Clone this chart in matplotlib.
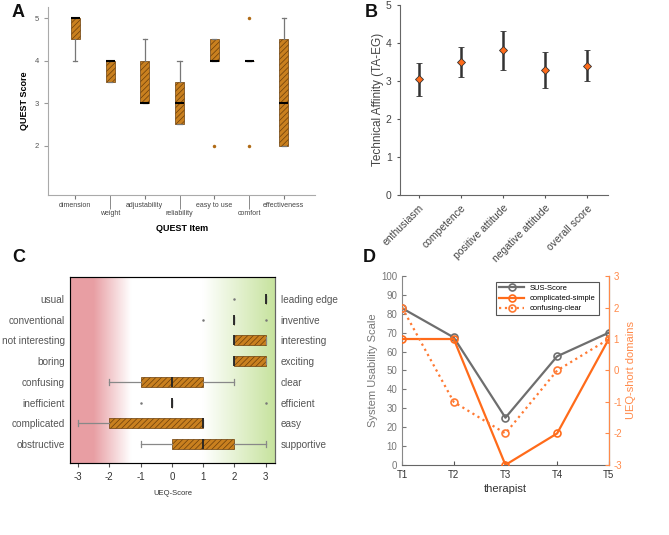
import matplotlib.pyplot as plt
import numpy as np

plt.rcParams['font.family'] = ['Liberation Sans', 'DejaVu Sans']
plt.rcParams['hatch.linewidth'] = 0.5
plt.rcParams['axes.unicode_minus'] = False

# A - QUEST
quest_items = ['dimension', 'weight', 'adjustability', 'reliability',
               'easy to use', 'comfort', 'effectiveness']
quest_med = [5, 4, 3, 3, 4, 4, 3]
quest_q1 = [4.5, 3.5, 3, 2.5, 4, 4, 2]
quest_q3 = [5, 4, 4, 3.5, 4.5, 4, 4.5]
quest_lo = [4, 3.5, 3, 2.5, 4, 4, 2]
quest_hi = [5, 4, 4.5, 4, 4.5, 4, 5]
quest_out = [[], [], [], [], [2], [2, 5], []]

# B - TA-EG
ta_items = ['enthusiasm', 'competence', 'positive attitude',
            'negative attitude', 'overall score']
ta_mean = [3.04, 3.50, 3.80, 3.29, 3.40]
ta_err = [0.44, 0.40, 0.52, 0.47, 0.40]

# C - UEQ
ueq_left = ['usual', 'conventional', 'not interesting', 'boring',
            'confusing', 'inefficient', 'complicated', 'obstructive']
ueq_right = ['leading edge', 'inventive', 'interesting', 'exciting',
             'clear', 'efficient', 'easy', 'supportive']
ueq_med = [3, 2, 2, 2, 0, 0, 1, 1]
ueq_q1 = [3, 2, 2, 2, -1, 0, -2, 0]
ueq_q3 = [3, 2, 3, 3, 1, 0, 1, 2]
ueq_lo = [3, 2, 2, 2, -2, 0, -3, -1]
ueq_hi = [3, 2, 3, 3, 2, 0, 1, 3]
ueq_out = [[2], [1, 3], [], [], [], [-1, 3], [], []]

# D - SUS / UEQ-short
therapists = ['T1', 'T2', 'T3', 'T4', 'T5']
sus = [83, 67.5, 25, 57.5, 70]
compl_simple = [1, 1, -3, -2, 1]
conf_clear = [2, -1, -2, 0, 1]

box_fc = '#C9801F'
box_ec = '#6B3E0A'
orange = '#FF6B1A'

fig = plt.figure(figsize=(6.69, 5.35), dpi=100)


def stats(med, q1, q3, lo, hi, out):
    return [dict(med=m, q1=a, q3=b, whislo=l, whishi=h, fliers=f)
            for m, a, b, l, h, f in zip(med, q1, q3, lo, hi, out)]


# ---------- A ----------
axA = fig.add_axes([0.072, 0.636, 0.399, 0.351])
pos = np.arange(len(quest_items))
axA.bxp(stats(quest_med, quest_q1, quest_q3, quest_lo, quest_hi, quest_out),
        positions=pos, widths=0.26, patch_artist=True, capwidths=0.12,
        boxprops=dict(facecolor=box_fc, edgecolor=box_ec, hatch='//////', lw=0.5),
        medianprops=dict(color='black', lw=1.5, zorder=5),
        whiskerprops=dict(color='#777777', lw=0.9),
        capprops=dict(color='#777777', lw=0.9),
        flierprops=dict(marker='o', ms=2.5, mfc='#B06A15', mec='none'))
axA.set_xlim(-0.78, 6.9)
axA.set_ylim(0.85, 5.26)
axA.set_yticks([2, 3, 4, 5])
axA.set_xticks(pos[::2])
axA.set_xticklabels(quest_items[::2])
axA.set_xticks(pos[1::2], minor=True)
axA.set_xticklabels(quest_items[1::2], minor=True)
axA.tick_params(axis='x', which='major', length=3, color='#777777', labelsize=5, labelcolor='#444444', pad=2)
axA.tick_params(axis='x', which='minor', length=10, color='#777777', labelsize=5, labelcolor='#444444', pad=1)
axA.tick_params(axis='y', length=3, color='#999999', labelsize=5.5, labelcolor='#555555')
for s in ['top', 'right']:
    axA.spines[s].set_visible(False)
for s in ['left', 'bottom']:
    axA.spines[s].set_color('#aaaaaa')
axA.set_ylabel('QUEST Score', fontsize=6.5, fontweight='bold', labelpad=4)
axA.set_xlabel('QUEST Item', fontsize=6.5, fontweight='bold', labelpad=5)

# ---------- B ----------
axB = fig.add_axes([0.598, 0.636, 0.311, 0.355])
xb = np.arange(1, len(ta_items) + 1)
axB.errorbar(xb, ta_mean, yerr=ta_err, fmt='D', color='#333333', mfc=orange,
             mec='#333333', mew=0.6, ms=4, capsize=2.5, elinewidth=1.8, capthick=1.8)
axB.set_xlim(0.55, 5.5)
axB.set_ylim(0, 5)
axB.set_xticks(xb)
axB.set_xticklabels(ta_items, rotation=45, ha='right', rotation_mode='anchor')
axB.tick_params(length=2.5, color='#555555', labelsize=7.5, labelcolor='#444444')
for s in ['top', 'right']:
    axB.spines[s].set_visible(False)
for s in ['left', 'bottom']:
    axB.spines[s].set_color('#666666')
axB.set_ylabel('Technical Affinity (TA-EG)', fontsize=8.5, color='#444444', labelpad=1)

# ---------- C ----------
axC = fig.add_axes([0.105, 0.135, 0.306, 0.347])
xs = np.linspace(-3.25, 3.3, 600)
red_w = np.clip((-1.3 - xs) / 1.2, 0, 1)
green_w = np.clip((xs - 1.0) / 2.3, 0, 1)
red = np.array([0.91, 0.62, 0.64])
green = np.array([0.78, 0.89, 0.62])
col = (1 - red_w[:, None] - green_w[:, None]) + red_w[:, None] * red + green_w[:, None] * green
axC.imshow(col[None, :, :], extent=[-3.25, 3.3, 0.1, 9.05], aspect='auto', zorder=0)
yc = np.arange(len(ueq_left), 0, -1)
axC.bxp(stats(ueq_med, ueq_q1, ueq_q3, ueq_lo, ueq_hi, ueq_out),
        positions=yc, widths=0.48, orientation='horizontal', patch_artist=True,
        capwidths=0.3,
        boxprops=dict(facecolor=box_fc, edgecolor=box_ec, hatch='//////', lw=0.5),
        medianprops=dict(color='#222222', lw=1.3, zorder=5),
        whiskerprops=dict(color='#888888', lw=0.9),
        capprops=dict(color='#888888', lw=0.9),
        flierprops=dict(marker='o', ms=1.8, mfc='#777777', mec='none'))
axC.set_xlim(-3.25, 3.3)
axC.set_ylim(0.1, 9.05)
axC.set_xticks([-3, -2, -1, 0, 1, 2, 3])
axC.set_yticks(yc)
axC.set_yticklabels(ueq_left)
axC.tick_params(axis='y', length=0, labelsize=7.2, labelcolor='#555555', pad=4)
axC.tick_params(axis='x', length=3, color='#555555', labelsize=7, labelcolor='#333333')
for s in axC.spines.values():
    s.set_color('#666666')
axC.set_xlabel('UEQ-Score', fontsize=5.5, color='#333333', labelpad=6)
axC2 = axC.twinx()
axC2.set_ylim(axC.get_ylim())
axC2.set_yticks(yc)
axC2.set_yticklabels(ueq_right)
axC2.tick_params(axis='y', length=0, labelsize=7.2, labelcolor='#555555', pad=4)
axC2.spines['right'].set_color('#666666')

# ---------- D ----------
axD = fig.add_axes([0.601, 0.131, 0.309, 0.353])
xd = np.arange(1, len(therapists) + 1)
l1, = axD.plot(xd, sus, '-o', color='#6E6E6E', lw=1.6, ms=5, mfc='none', mew=1.2,
               label='SUS-Score')
axD.set_xlim(1, 5)
axD.set_ylim(0, 100)
axD.set_yticks(range(0, 101, 10))
axD.set_xticks(xd)
axD.set_xticklabels(therapists)
axD.tick_params(axis='y', direction='in', length=3, color='#777777', labelsize=7, labelcolor='#777777')
axD.tick_params(axis='x', direction='in', length=3, color='#555555', labelsize=7, labelcolor='#333333')
axD.set_xlabel('therapist', fontsize=8, color='#333333', labelpad=3)
axD.set_ylabel('System Usability Scale', fontsize=8, color='#777777', labelpad=2)
axD2 = axD.twinx()
l2, = axD2.plot(xd, compl_simple, '-o', color=orange, lw=1.6, ms=5, mfc='none', mew=1.2,
                label='complicated-simple')
l3, = axD2.plot(xd, conf_clear, ':o', color='#FF7A33', lw=1.6, ms=5, mfc='none', mew=1.2,
                label='confusing-clear')
axD2.set_ylim(-3, 3)
axD2.set_yticks(range(-3, 4))
axD2.tick_params(axis='y', direction='in', length=3, color='#FF8A4A', labelsize=7, labelcolor='#FF8A4A')
axD2.set_ylabel('UEQ-short domains', fontsize=8, color='#FF8A4A', labelpad=3)
for ax in (axD, axD2):
    ax.spines['top'].set_visible(False)
axD.spines['left'].set_color('#888888')
axD.spines['bottom'].set_color('#666666')
axD2.spines['left'].set_visible(False)
axD2.spines['bottom'].set_visible(False)
axD2.spines['right'].set_color('#FF8A4A')
leg = axD2.legend(handles=[l1, l2, l3], loc='upper right', bbox_to_anchor=(0.97, 0.99),
                  fontsize=5.5, fancybox=False, edgecolor='#555555', framealpha=1,
                  handlelength=3.2, borderpad=0.4, labelspacing=0.35)
leg.get_frame().set_linewidth(0.8)

for lab, x, y in [('A', 0.018, 0.968), ('B', 0.545, 0.968), ('C', 0.018, 0.51), ('D', 0.542, 0.51)]:
    fig.text(x, y, lab, fontsize=13, fontweight='bold', color='#111111')

fig.savefig('out.png', dpi=100)
